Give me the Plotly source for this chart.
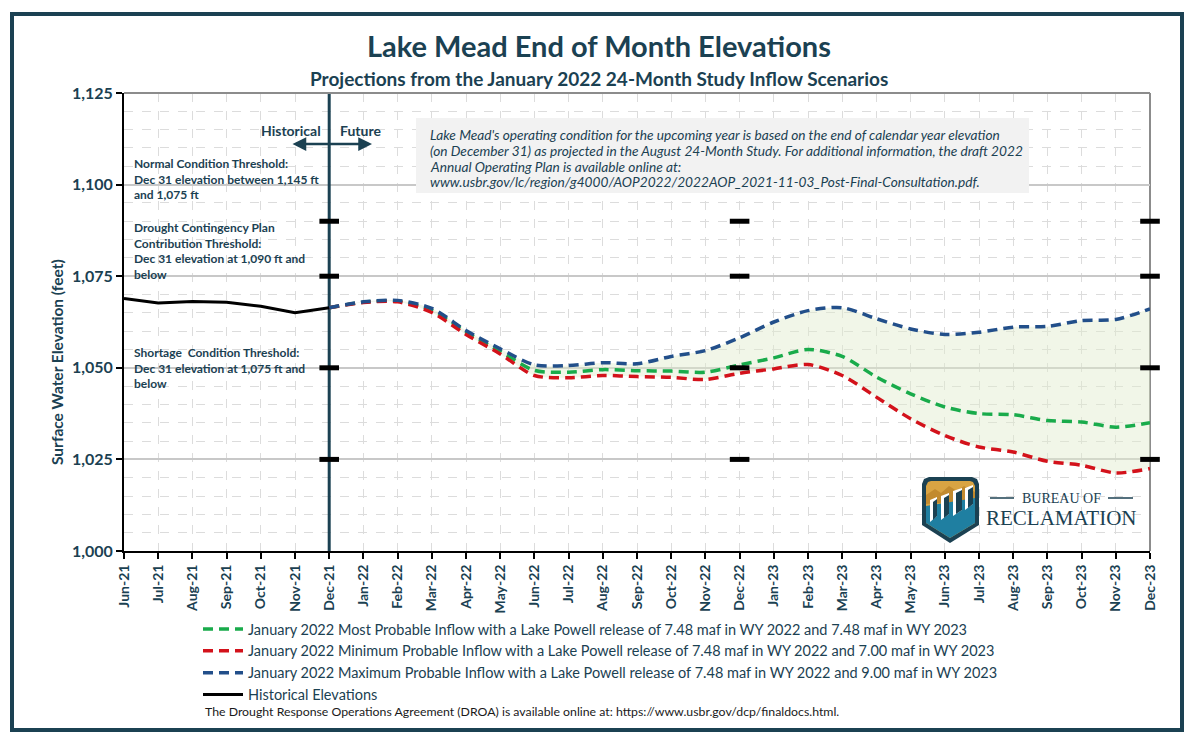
import plotly.graph_objects as go

# ---------------- data ----------------
months = ["Jun-21", "Jul-21", "Aug-21", "Sep-21", "Oct-21", "Nov-21", "Dec-21",
          "Jan-22", "Feb-22", "Mar-22", "Apr-22", "May-22", "Jun-22", "Jul-22",
          "Aug-22", "Sep-22", "Oct-22", "Nov-22", "Dec-22",
          "Jan-23", "Feb-23", "Mar-23", "Apr-23", "May-23", "Jun-23", "Jul-23",
          "Aug-23", "Sep-23", "Oct-23", "Nov-23", "Dec-23"]

hist_months = months[:7]
hist_elev = [1068.9, 1067.7, 1068.1, 1067.9, 1066.8, 1065.0, 1066.4]

proj_months = months[6:]
most_prob = [1066.4, 1067.9, 1068.2, 1065.7, 1059.8, 1054.5, 1049.3, 1048.8,
             1049.5, 1049.2, 1049.1, 1048.8, 1050.8, 1052.7, 1055.0, 1053.1,
             1047.5, 1042.9, 1039.3, 1037.5, 1037.2, 1035.6, 1035.2, 1033.8, 1035.0]
min_prob = [1066.4, 1067.8, 1068.0, 1065.1, 1059.1, 1053.8, 1047.9, 1047.3,
            1047.9, 1047.6, 1047.4, 1046.8, 1048.5, 1049.7, 1050.9, 1047.9,
            1042.0, 1036.1, 1031.5, 1028.4, 1027.0, 1024.5, 1023.4, 1021.3, 1022.5]
max_prob = [1066.4, 1068.0, 1068.4, 1066.2, 1060.2, 1055.2, 1050.8, 1050.6,
            1051.4, 1051.1, 1053.1, 1054.7, 1058.2, 1062.5, 1065.6, 1066.4,
            1063.4, 1060.6, 1059.1, 1059.7, 1061.1, 1061.3, 1062.9, 1063.2, 1066.1]

divider_month = "Dec-21"
threshold_months = ["Dec-21", "Dec-22", "Dec-23"]
threshold_levels = [1090, 1075, 1050, 1025]

y_range = [1000, 1125]
y_ticks = [1000, 1025, 1050, 1075, 1100, 1125]
y_tick_labels = ["1,000", "1,025", "1,050", "1,075", "1,100", "1,125"]

names = [
    "January 2022 Most Probable Inflow with a Lake Powell release of 7.48 maf in WY 2022 and 7.48 maf in WY 2023",
    "January 2022 Minimum Probable Inflow with a Lake Powell release of 7.48 maf in WY 2022 and 7.00 maf in WY 2023",
    "January 2022 Maximum Probable Inflow with a Lake Powell release of 7.48 maf in WY 2022 and 9.00 maf in WY 2023",
    "Historical Elevations",
]

info_lines = [
    "Lake Mead's operating condition for the upcoming year is based on the end of calendar year elevation",
    "(on December 31) as projected in the August 24-Month Study. For additional information, the draft 2022",
    "Annual Operating Plan is available online at:",
    "www.usbr.gov/lc/region/g4000/AOP2022/2022AOP_2021-11-03_Post-Final-Consultation.pdf.",
]

# ---------------- styles ----------------
TEAL = "#1b4152"
GREEN = "#19ab4b"
RED = "#d3121b"
BLUE = "#224f8a"
FONT = "Lato"
W, H = 1200, 755
ML, MR, MT, MB = 124, 50, 93, 204
PW, PH = W - ML - MR, H - MT - MB


def px(x):
    return (x - ML) / PW


def py(y):
    return (H - MB - y) / PH


fig = go.Figure()

# fill between min and max
fig.add_trace(go.Scatter(x=proj_months, y=min_prob, mode="lines",
                         line=dict(width=0, shape="spline", smoothing=0.8),
                         showlegend=False, hoverinfo="skip"))
fig.add_trace(go.Scatter(x=proj_months, y=max_prob, mode="lines",
                         line=dict(width=0, shape="spline", smoothing=0.8),
                         fill="tonexty", fillcolor="rgba(225,236,205,0.45)",
                         showlegend=False, hoverinfo="skip"))

# historical / future divider
fig.add_trace(go.Scatter(x=[divider_month, divider_month], y=y_range, mode="lines",
                         line=dict(color=TEAL, width=3), showlegend=False,
                         hoverinfo="skip", cliponaxis=False))

dash = "10px,6px"
fig.add_trace(go.Scatter(x=proj_months, y=most_prob, mode="lines", name=names[0],
                         line=dict(color=GREEN, width=3.5, dash=dash, shape="spline", smoothing=0.8)))
fig.add_trace(go.Scatter(x=proj_months, y=min_prob, mode="lines", name=names[1],
                         line=dict(color=RED, width=3.5, dash=dash, shape="spline", smoothing=0.8)))
fig.add_trace(go.Scatter(x=proj_months, y=max_prob, mode="lines", name=names[2],
                         line=dict(color=BLUE, width=3.5, dash=dash, shape="spline", smoothing=0.8)))
fig.add_trace(go.Scatter(x=hist_months, y=hist_elev, mode="lines", name=names[3],
                         line=dict(color="black", width=3)))

# threshold markers
tx, ty = [], []
for m in threshold_months:
    for lv in threshold_levels:
        tx.append(m)
        ty.append(lv)
fig.add_trace(go.Scatter(x=tx, y=ty, mode="markers", showlegend=False, hoverinfo="skip",
                         cliponaxis=False,
                         marker=dict(symbol="line-ew", size=14, line=dict(width=5, color="black"))))

shapes = []
# plot frame top/right grey
shapes.append(dict(type="line", xref="paper", yref="paper", x0=0, x1=1, y0=1, y1=1,
                   line=dict(color="#8c8c8c", width=2)))
shapes.append(dict(type="line", xref="paper", yref="paper", x0=1, x1=1, y0=0, y1=1,
                   line=dict(color="#8c8c8c", width=2), layer="below"))
# info box
shapes.append(dict(type="rect", xref="paper", yref="paper", x0=px(416), x1=px(1029),
                   y0=py(193), y1=py(118), fillcolor="#f2f2f2", line=dict(width=0), layer="above"))
# outer border
shapes.append(dict(type="rect", xref="paper", yref="paper", x0=px(12), x1=px(1182),
                   y0=py(730), y1=py(14), line=dict(color=TEAL, width=4), fillcolor="rgba(0,0,0,0)"))


def path(points, close=True):
    s = "M " + " L ".join(f"{px(a):.5f},{py(b):.5f}" for a, b in points)
    return s + (" Z" if close else "")


# logo (decorative)
shapes.append(dict(type="path", xref="paper", yref="paper", layer="above",
                   path=path([(922, 484), (924, 479), (929, 477), (972, 477), (977, 479), (979, 484),
                              (979, 525), (950, 543), (922, 525)]),
                   fillcolor=TEAL, line=dict(width=0)))
shapes.append(dict(type="path", xref="paper", yref="paper", layer="above",
                   path=path([(926, 486), (928, 482), (931, 481), (970, 481), (973, 482), (975, 486),
                              (975, 523), (950, 538), (926, 523)]),
                   fillcolor="#d9a443", line=dict(width=0)))
shapes.append(dict(type="path", xref="paper", yref="paper", layer="above",
                   path=path([(926, 495), (935, 489), (941, 493), (949, 486), (957, 491), (964, 486),
                              (975, 492), (975, 500), (926, 504)]),
                   fillcolor="#c28a2e", line=dict(width=0)))
shapes.append(dict(type="path", xref="paper", yref="paper", layer="above",
                   path=path([(926, 506), (975, 498), (975, 523), (950, 538), (926, 523)]),
                   fillcolor="#1f7fa1", line=dict(width=0)))
for (xa, ya, xb, yb) in [(930, 500, 937, 522), (941, 496, 949, 520), (953, 491, 962, 516), (965, 488, 973, 510)]:
    shapes.append(dict(type="path", xref="paper", yref="paper", layer="above",
                       path=path([(xa, ya), (xb, ya - 3), (xb, yb - 6), (xa, yb)]),
                       fillcolor="white", line=dict(width=0)))
    shapes.append(dict(type="path", xref="paper", yref="paper", layer="above",
                       path=path([(xa + 3, ya + 2), (xb, ya - 1), (xb, yb - 6), (xa + 3, yb - 2)]),
                       fillcolor=TEAL, line=dict(width=0)))
shapes.append(dict(type="line", xref="paper", yref="paper", x0=px(990), x1=px(1014),
                   y0=py(498), y1=py(498), line=dict(color=TEAL, width=1.5)))
shapes.append(dict(type="line", xref="paper", yref="paper", x0=px(1108), x1=px(1133),
                   y0=py(498), y1=py(498), line=dict(color=TEAL, width=1.5)))

annotations = []
annotations.append(dict(text="Projections from the January 2022 24-Month Study Inflow Scenarios",
                        xref="paper", yref="paper", x=px(599), y=py(78), showarrow=False,
                        font=dict(family=FONT, size=19, color=TEAL, weight="bold"),
                        xanchor="center", yanchor="middle"))
annotations.append(dict(text="Surface Water Elevation (feet)", xref="paper", yref="paper",
                        x=px(57), y=py(362), textangle=-90, showarrow=False,
                        font=dict(family=FONT, size=15.5, color=TEAL, weight="bold"),
                        xanchor="center", yanchor="middle"))
note_font = dict(family=FONT, size=12, color=TEAL, weight="bold")
annotations.append(dict(text="Normal Condition Threshold:<br>Dec 31 elevation between 1,145 ft<br>and 1,075 ft",
                        xref="paper", yref="paper", x=px(132), y=py(179), showarrow=False,
                        align="left", xanchor="left", yanchor="middle", font=note_font))
annotations.append(dict(text="Drought Contingency Plan<br>Contribution Threshold:<br>Dec 31 elevation at 1,090 ft and<br>below",
                        xref="paper", yref="paper", x=px(132), y=py(251), showarrow=False,
                        align="left", xanchor="left", yanchor="middle", font=note_font))
annotations.append(dict(text="Shortage  Condition Threshold:<br>Dec 31 elevation at 1,075 ft and<br>below",
                        xref="paper", yref="paper", x=px(132), y=py(368), showarrow=False,
                        align="left", xanchor="left", yanchor="middle", font=note_font))
annotations.append(dict(text="Historical", xref="paper", yref="paper", x=px(323), y=py(130),
                        showarrow=False, xanchor="right", yanchor="middle",
                        font=dict(family=FONT, size=14, color=TEAL, weight="bold")))
annotations.append(dict(text="Future", xref="paper", yref="paper", x=px(338), y=py(130),
                        showarrow=False, xanchor="left", yanchor="middle",
                        font=dict(family=FONT, size=14, color=TEAL, weight="bold")))
annotations.append(dict(text="", xref="paper", yref="paper", axref="pixel", ayref="pixel",
                        x=px(372), y=py(144), ax=-(372 - 291), ay=0, showarrow=True,
                        arrowhead=2, arrowside="end+start", arrowsize=1.1, arrowwidth=2.5,
                        arrowcolor=TEAL))
for i, line in enumerate(info_lines):
    annotations.append(dict(text="<i>" + line + "</i>", xref="paper", yref="paper",
                            x=px(428), y=py(134 + 16 * i), showarrow=False,
                            align="left", xanchor="left", yanchor="middle",
                            font=dict(family=FONT, size=13.7, color=TEAL)))
annotations.append(dict(text="The Drought Response Operations Agreement (DROA) is available online at: https://www.usbr.gov/dcp/finaldocs.html.",
                        xref="paper", yref="paper", x=px(203), y=py(711), showarrow=False,
                        xanchor="left", yanchor="middle",
                        font=dict(family=FONT, size=12.3, color="#1a1a1a")))
annotations.append(dict(text="BUREAU OF", xref="paper", yref="paper", x=px(1061), y=py(498),
                        showarrow=False, xanchor="center", yanchor="middle",
                        font=dict(family="Liberation Serif", size=14, color=TEAL)))
annotations.append(dict(text="RECLAMATION", xref="paper", yref="paper", x=px(1061), y=py(518),
                        showarrow=False, xanchor="center", yanchor="middle",
                        font=dict(family="Liberation Serif", size=21, color=TEAL)))

fig.update_layout(
    width=W, height=H, autosize=False,
    margin=dict(l=ML, r=MR, t=MT, b=MB, autoexpand=False),
    paper_bgcolor="white", plot_bgcolor="white",
    title=dict(text="Lake Mead End of Month Elevations", x=599 / W, xref="container",
               y=1 - 47 / H, yref="container", xanchor="center", yanchor="middle",
               font=dict(family=FONT, size=29, color=TEAL, weight="bold")),
    xaxis=dict(type="category", categoryorder="array", categoryarray=months,
               range=[0, len(months) - 1], tickangle=-90, automargin=False,
               tickfont=dict(family=FONT, size=14, color=TEAL, weight="bold"),
               showgrid=True, gridcolor="#dcdcdc", griddash="dash", gridwidth=1,
               showline=True, linecolor="black", linewidth=2,
               ticks="outside", ticklen=6, tickcolor="black", tickwidth=1.5,
               zeroline=False),
    yaxis=dict(range=y_range, tickvals=y_ticks, ticktext=y_tick_labels, automargin=False,
               tickfont=dict(family=FONT, size=16, color=TEAL, weight="bold"),
               showgrid=True, gridcolor="#c8c8c8", gridwidth=1.5,
               minor=dict(dtick=5, showgrid=True, gridcolor="#dcdcdc", griddash="dash", gridwidth=1),
               showline=True, linecolor="black", linewidth=2,
               ticks="outside", ticklen=6, tickcolor="black", tickwidth=1.5,
               zeroline=False),
    legend=dict(x=px(198), y=py(613), xanchor="left", yanchor="top", traceorder="normal",
                font=dict(family=FONT, size=14.5, color=TEAL), bgcolor="rgba(0,0,0,0)",
                tracegroupgap=0, itemwidth=40),
    shapes=shapes,
    annotations=annotations,
    showlegend=True,
)

fig.write_html("out.html", config={"displayModeBar": False},
               post_script="document.body.style.margin='0px';")
